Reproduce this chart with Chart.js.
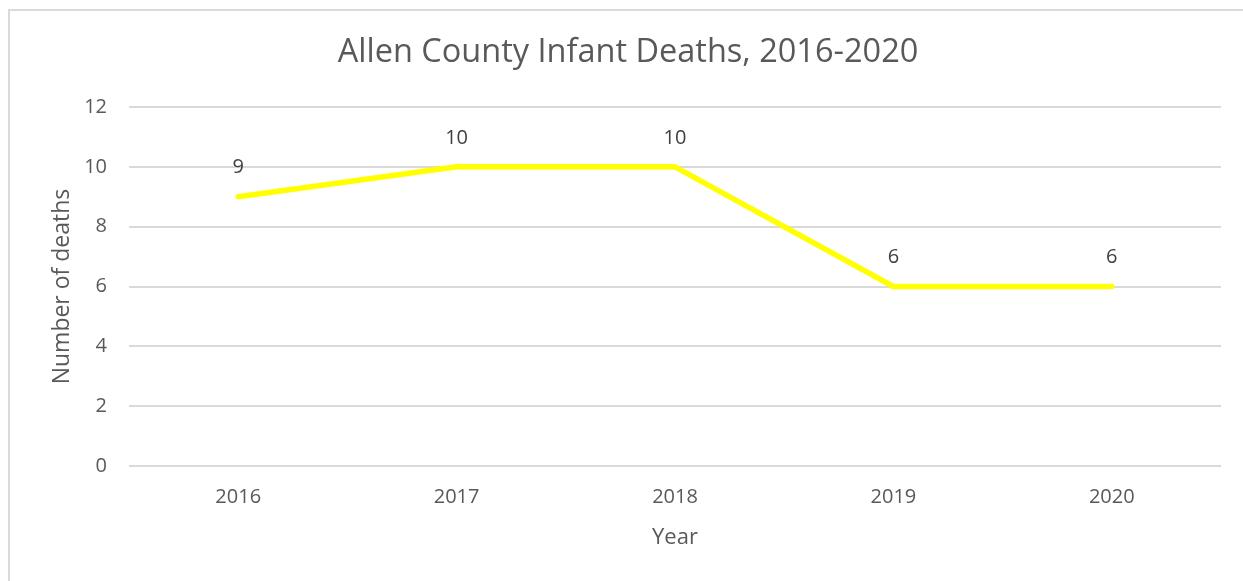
<!DOCTYPE html>
<html>
<head>
<meta charset="utf-8">
<script src="https://cdn.jsdelivr.net/npm/chart.js@4/dist/chart.umd.min.js"></script>
<style>
  html, body { margin: 0; padding: 0; background: #fff; }
  #wrap { position: relative; width: 1243px; height: 581px; overflow: hidden; }
  #frame { position: absolute; left: 8px; top: 9px; width: 1300px; height: 700px; border: 2px solid #d9d9d9; box-sizing: border-box; }
  canvas { position: absolute; left: 0; top: 0; }
</style>
</head>
<body>
<div id="wrap">
  <div id="frame"></div>
  <canvas id="c" width="1243" height="581"></canvas>
</div>
<script>
const chartTitle = 'Allen County Infant Deaths, 2016-2020';
const years = ['2016', '2017', '2018', '2019', '2020'];
const deaths = [9, 10, 10, 6, 6];
const yTicks = [0, 2, 4, 6, 8, 10, 12];

const FONT = "'Open Sans', sans-serif";
const TEXT = '#595959';

const titlePlugin = {
  id: 'titleText',
  afterDraw(chart) {
    const ctx = chart.ctx;
    ctx.save();
    ctx.font = '32.5px ' + FONT;
    ctx.fillStyle = TEXT;
    ctx.textAlign = 'center';
    ctx.textBaseline = 'middle';
    ctx.fillText(chartTitle, 628, 53);
    ctx.restore();
  }
};

const labelPlugin = {
  id: 'pointLabels',
  afterDatasetsDraw(chart) {
    const ctx = chart.ctx;
    const meta = chart.getDatasetMeta(0);
    ctx.save();
    ctx.font = '20px ' + FONT;
    ctx.fillStyle = '#404040';
    ctx.textAlign = 'center';
    ctx.textBaseline = 'middle';
    meta.data.forEach((pt, i) => {
      ctx.fillText(String(deaths[i]), pt.x, pt.y - 29);
    });
    ctx.restore();
  }
};

new Chart(document.getElementById('c'), {
  type: 'line',
  data: {
    labels: years,
    datasets: [{
      data: deaths,
      borderColor: '#FFFF00',
      borderWidth: 5.5,
      borderCapStyle: 'round',
      borderJoinStyle: 'round',
      pointRadius: 0,
      pointHoverRadius: 0,
      tension: 0,
      fill: false
    }]
  },
  options: {
    responsive: false,
    animation: false,
    devicePixelRatio: 1,
    layout: { padding: { left: 0, right: 22, top: 107, bottom: 0 } },
    plugins: {
      legend: { display: false },
      tooltip: { enabled: false },
      title: { display: false }
    },
    scales: {
      x: {
        offset: true,
        grid: { display: false, drawTicks: false },
        border: { display: false },
        ticks: { color: TEXT, font: { family: FONT, size: 20 }, padding: 19 },
        title: { display: true, text: 'Year', color: TEXT, font: { family: FONT, size: 22 }, padding: { top: 0, bottom: 30 } },
        afterFit(scale) { scale.height = 115; }
      },
      y: {
        min: 0, max: 12,
        afterBuildTicks(scale) { scale.ticks = yTicks.map(v => ({ value: v })); },
        grid: { color: '#d9d9d9', lineWidth: 2, drawTicks: false },
        border: { display: false },
        ticks: { color: TEXT, font: { family: FONT, size: 20 }, padding: 22 },
        title: { display: true, text: 'Number of deaths', color: TEXT, font: { family: FONT, size: 23 }, padding: { top: 49, bottom: 0 } },
        afterFit(scale) { scale.width = 129; }
      }
    }
  },
  plugins: [titlePlugin, labelPlugin]
});
</script>
</body>
</html>
